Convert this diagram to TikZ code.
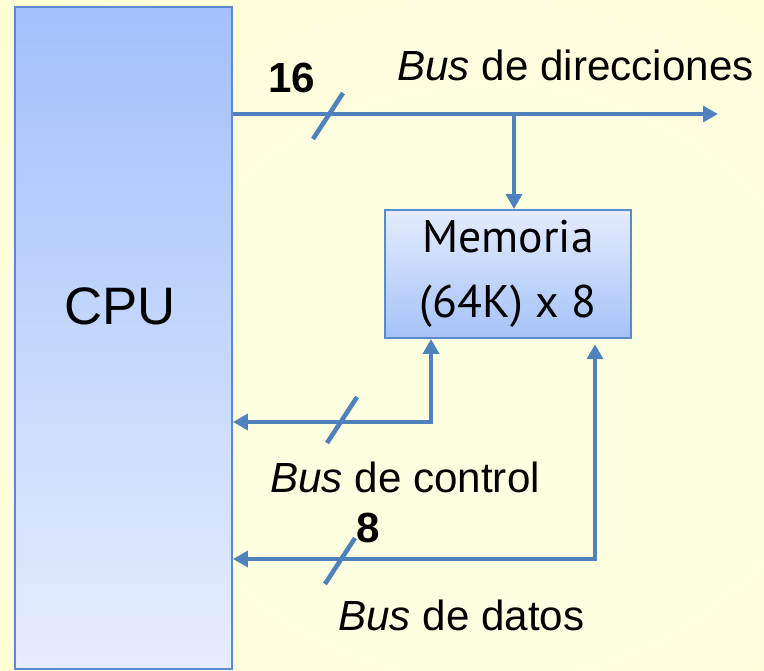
\documentclass[tikz,border=0pt]{standalone}
\usepackage{fontspec}
\setmainfont{Liberation Sans}
\newfontfamily\memfont{PT Sans}
\usetikzlibrary{arrows.meta, positioning, calc}
\definecolor{busblue}{HTML}{4F81BD}
\definecolor{cpuedge}{HTML}{5A8AD0}
\definecolor{cputop}{HTML}{A2C0FB}
\definecolor{cpubot}{HTML}{E6EEFD}
\definecolor{memtop}{HTML}{E4ECFD}
\definecolor{membot}{HTML}{A5C2F8}
\definecolor{bgin}{HTML}{FFFFE2}
\definecolor{bgout}{HTML}{FFFFBE}
\pgfdeclareradialshading{bgglow}{\pgfpoint{10bp}{-5bp}}{color(0bp)=(bgin); color(20bp)=(bgin); color(75bp)=(bgout)}

\begin{document}
\begin{tikzpicture}[x=0.02cm, y=-0.02cm,
  every node/.style={font=\fontsize{24}{28}\selectfont, inner sep=0pt},
  cpubox/.style={rectangle, draw=cpuedge, line width=1.1pt, top color=cputop, bottom color=cpubot, minimum width=4.34cm, minimum height=13.24cm},
  membox/.style={rectangle, draw=cpuedge, line width=1.1pt, top color=memtop, bottom color=membot, minimum width=4.92cm, minimum height=2.56cm, align=center, font=\memfont\fontsize{26}{37}\selectfont},
  width/.style={font=\fontsize{24}{28}\selectfont\bfseries},
  bus/.style={draw=busblue, line width=2.6pt},
  tip/.style={-{Triangle[length=8.5pt, width=9pt]}},
  tips/.style={{Triangle[length=8.5pt, width=9pt]}-{Triangle[length=8.5pt, width=9pt]}},
]
% background
\shade[shading=bgglow] (0,0) rectangle (764,670);
\useasboundingbox (0,0) rectangle (764,670);

% CPU and memory
\node[cpubox] (cpu) at (123.5,338) {};
\node[font=\fontsize{30}{34}\selectfont] (cpulbl) at (120,306) {CPU};
\node[membox] (mem) at (508,274) {Memoria\\(64K) x 8};

% bus corners
\coordinate (addrend) at (718,114);
\coordinate (addrtap) at (514,114);
\coordinate (ctlbend) at (431,422);
\coordinate (datbend) at (595,559);

% buses
\draw[bus, tip] (cpu.east |- addrend) -- (addrend);
\draw[bus, tip] (addrtap) -- (mem.north -| addrtap);
\draw[bus, tips] (cpu.east |- ctlbend) -| (mem.south -| ctlbend);
\draw[bus, tips, shorten >=3pt] (cpu.east |- datbend) -| (mem.south -| datbend);

% bus width marks
\foreach \sx/\sy in {328/116, 342/420, 340/561}
  \draw[bus] (\sx,\sy) +(-15,23) -- +(15,-23);

% labels
\node[width] (w16) at (292,78) {16};
\node[width] (w8) at (368,528) {8};
\node[anchor=base west] (addrlbl) at (397,80) {\textit{Bus} de direcciones};
\node[anchor=base west] (ctllbl) at (270,492) {\textit{Bus} de control};
\node[anchor=base west] (datlbl) at (338,630) {\textit{Bus} de datos};

\end{tikzpicture}
\end{document}
